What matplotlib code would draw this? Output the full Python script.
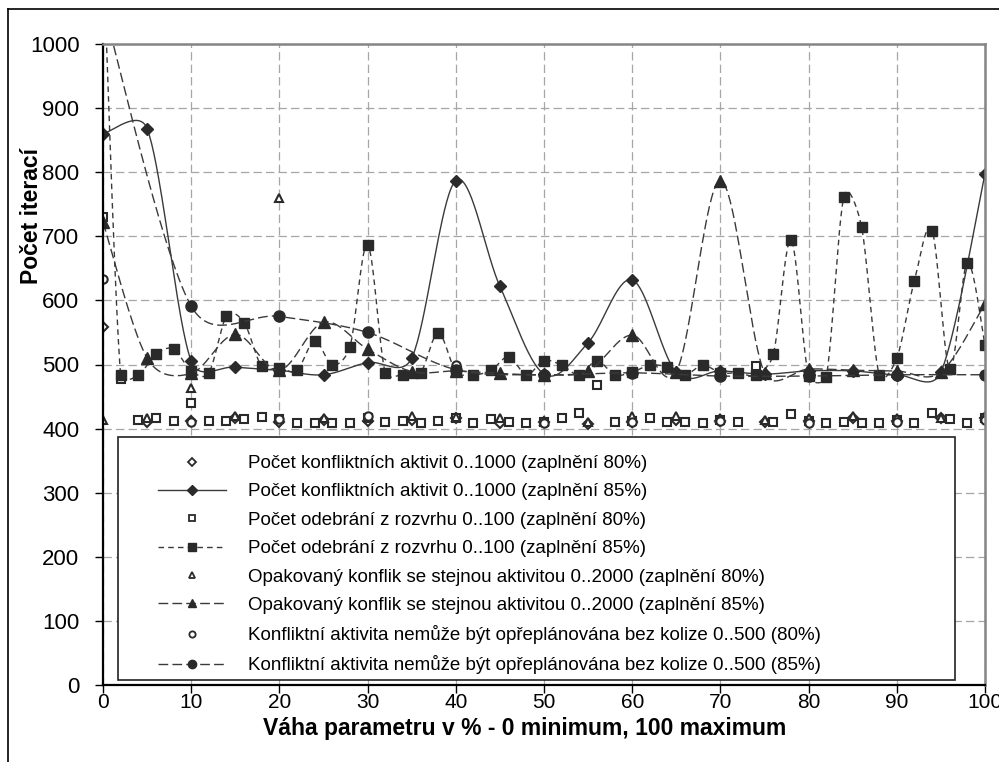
import numpy as np
import matplotlib
matplotlib.use('Agg')
import matplotlib.pyplot as plt
from matplotlib.lines import Line2D
from matplotlib.patches import Rectangle

plt.rcParams['font.family'] = ['Liberation Sans', 'DejaVu Sans']
plt.rcParams['lines.scale_dashes'] = False

# ---------------- data ----------------
x5 = list(range(0, 101, 5))
x2 = list(range(0, 101, 2))
x10 = list(range(0, 101, 10))

konflikt80 = [559, 410, 412, 416, 410, 413, 412, 414, 416, 409, 410,
              407, 411, 413, 412, 410, 412, 416, 412, 416, 416]
konflikt85 = [860, 868, 505, 496, 491, 484, 503, 510, 787, 622, 485,
              534, 632, 488, 490, 485, 490, 490, 484, 488, 797]

odebrani80 = [730, 478, 414, 417, 412, 440, 412, 412, 415, 418, 415,
              409, 409, 409, 409, 416, 411, 412, 409, 412, 417,
              409, 415, 411, 409, 411, 416, 424, 468, 411, 412,
              416, 411, 411, 408, 414, 411, 497, 411, 422, 412,
              409, 411, 409, 409, 413, 409, 424, 415, 409, 416]
odebrani85 = [1150, 483, 483, 516, 524, 490, 487, 575, 565, 497, 495,
              491, 537, 499, 528, 687, 487, 484, 487, 549, 490,
              484, 491, 512, 484, 506, 499, 484, 506, 484, 488,
              499, 496, 484, 499, 487, 487, 484, 516, 694, 482,
              481, 762, 715, 484, 510, 631, 709, 493, 659, 530]

opak80 = [413, 416, 463, 420, 759, 416, 418, 419, 418, 416, 412,
          411, 420, 419, 416, 414, 416, 420, 417, 416, 420]
opak85 = [722, 510, 486, 547, 491, 566, 524, 489, 490, 486, 484,
          490, 546, 489, 787, 487, 493, 491, 490, 488, 595]

nemuze80 = [634, 411, 415, 420, 499, 409, 410, 412, 409, 411, 413]
nemuze85 = [1060, 591, 575, 550, 492, 484, 487, 482, 482, 484, 484]

labels = [
    "Počet konfliktních aktivit 0..1000 (zaplnění 80%)",
    "Počet konfliktních aktivit 0..1000 (zaplnění 85%)",
    "Počet odebrání z rozvrhu 0..100 (zaplnění 80%)",
    "Počet odebrání z rozvrhu 0..100 (zaplnění 85%)",
    "Opakovaný konflik se stejnou aktivitou 0..2000 (zaplnění 80%)",
    "Opakovaný konflik se stejnou aktivitou 0..2000 (zaplnění 85%)",
    "Konfliktní aktivita nemůže být opřeplánována bez kolize 0..500 (80%)",
    "Konfliktní aktivita nemůže být opřeplánována bez kolize 0..500 (85%)",
]
xticks = list(range(0, 101, 10))
yticks = list(range(0, 1001, 100))

W, H = 999, 762
AX_L, AX_R, AX_T, AX_B = 103, 985, 44, 685
XMIN, XMAX, YMIN, YMAX = 0, 100, 0, 1000
SX = (AX_R - AX_L) / (XMAX - XMIN)   # display px per x unit
SY = (AX_B - AX_T) / (YMAX - YMIN)   # display px per y unit


def smooth(xs, ys, n=40):
    """Excel-like smoothed curve: cubic Bezier with (next-prev)/6 tangents,
    control arm limited to half of the segment length (on screen)."""
    P = np.column_stack([np.asarray(xs, float), np.asarray(ys, float)])
    scale = np.array([SX, SY])
    ext = np.vstack([P[0], P, P[-1]])
    t = np.linspace(0, 1, n)[:, None]
    out = []
    for i in range(len(P) - 1):
        pm, p0, p1, pp = ext[i], ext[i + 1], ext[i + 2], ext[i + 3]
        d1 = np.linalg.norm((p1 - p0) * scale)
        v1 = (p1 - pm) / 6.0
        v2 = (pp - p0) / 6.0
        l1 = np.linalg.norm(v1 * scale)
        l2 = np.linalg.norm(v2 * scale)
        if l1 > d1 / 2 and l1 > 0:
            v1 = v1 * (d1 / 2) / l1
        if l2 > d1 / 2 and l2 > 0:
            v2 = v2 * (d1 / 2) / l2
        c1 = p0 + v1
        c2 = p1 - v2
        seg = ((1 - t) ** 3) * p0 + 3 * ((1 - t) ** 2) * t * c1 + 3 * (1 - t) * t ** 2 * c2 + t ** 3 * p1
        out.append(seg if i == 0 else seg[1:])
    out = np.vstack(out)
    return out[:, 0], out[:, 1]


fig = plt.figure(figsize=(W / 100, H / 100), dpi=100)
ax = fig.add_axes([AX_L / W, 1 - AX_B / H, (AX_R - AX_L) / W, (AX_B - AX_T) / H])

dark = '#2a2a2a'
lcol = '#3a3a3a'
ls_solid = '-'
ls_short = (0, (4, 3))
ls_long = (0, (7, 3))

# series definitions: (x, y, marker, ms, filled, linestyle)
series = [
    (x5, konflikt80, 'D', 5.0, False, None),
    (x5, konflikt85, 'D', 6.5, True, ls_solid),
    (x2, odebrani80, 's', 6.0, False, None),
    (x2, odebrani85, 's', 7.5, True, ls_short),
    (x5, opak80, '^', 6.0, False, None),
    (x5, opak85, '^', 8.0, True, ls_long),
    (x10, nemuze80, 'o', 6.0, False, None),
    (x10, nemuze85, 'o', 8.0, True, ls_long),
]

handles = []
for k, (xs, ys, m, ms, filled, ls) in enumerate(series):
    z = 3 + k * 0.1
    if ls is not None:
        sx, sy = smooth(xs, ys)
        ax.plot(sx, sy, color=lcol, lw=1.0, linestyle=ls, zorder=z)
    ax.plot(xs, ys, linestyle='none', marker=m, markersize=ms,
            markerfacecolor=dark if filled else 'white',
            markeredgecolor=dark, markeredgewidth=1.0 if filled else 1.5,
            zorder=z + 0.05, clip_on=True)
    handles.append(Line2D([], [], color=lcol, lw=1.0,
                          linestyle=ls if ls is not None else 'none',
                          marker=m, markersize=ms * 0.75,
                          markerfacecolor=dark if filled else 'white',
                          markeredgecolor=dark,
                          markeredgewidth=1.0 if filled else 1.3))

ax.set_xlim(XMIN, XMAX)
ax.set_ylim(YMIN, YMAX)
ax.set_xticks(xticks)
ax.set_yticks(yticks)
ax.tick_params(axis='both', length=6, width=1, color='black', direction='out')
ax.tick_params(axis='y', pad=11, labelsize=16)
ax.tick_params(axis='x', pad=0, labelsize=15)
ax.grid(True, color='#a6a6a6', linewidth=0.9, linestyle=(0, (6, 3)))
ax.set_axisbelow(True)

for s in ['left', 'bottom']:
    ax.spines[s].set_color('black')
    ax.spines[s].set_linewidth(1.6)
for s in ['top', 'right']:
    ax.spines[s].set_color('#858585')
    ax.spines[s].set_linewidth(1.8)
for s in ax.spines.values():
    s.set_zorder(10)

fig.text(525 / W, 1 - 728 / H, "Váha parametru v % - 0 minimum, 100 maximum",
         ha='center', va='center', fontsize=16.5, fontweight='bold')
fig.text(31 / W, 1 - 216 / H, "Počet iterací", rotation=90,
         ha='center', va='center', fontsize=16.5, fontweight='bold')

# legend box
rect = Rectangle((118 / W, 1 - 680 / H), (955 - 118) / W, (680 - 437) / H,
                 transform=fig.transFigure, facecolor='white',
                 edgecolor='#222222', linewidth=1.2, zorder=20)
fig.add_artist(rect)
leg = fig.legend(handles, labels, loc='upper left',
                 bbox_to_anchor=(158 / W, 1 - 455 / H),
                 bbox_transform=fig.transFigure, frameon=False,
                 fontsize=13.5, handlelength=3.6, handletextpad=1.2,
                 labelspacing=0.6, borderpad=0.0, borderaxespad=0.0)
leg.set_zorder(21)

# outer frame
fig.add_artist(Line2D([8 / W, 8 / W], [0, 1 - 9 / H], transform=fig.transFigure,
                      color='black', lw=1.2))
fig.add_artist(Line2D([8 / W, 1], [1 - 9 / H, 1 - 9 / H], transform=fig.transFigure,
                      color='black', lw=1.2))

fig.savefig('out.png', dpi=100)
